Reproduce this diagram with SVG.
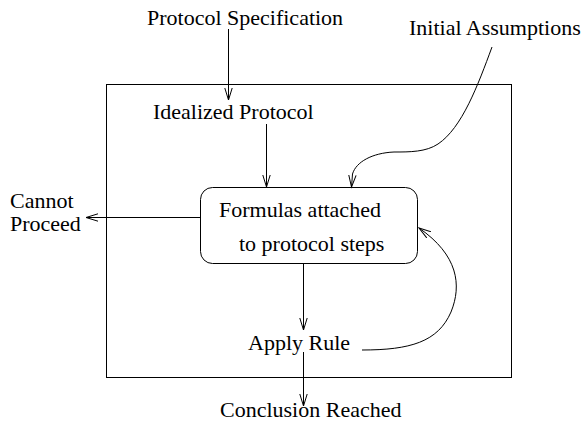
<svg xmlns="http://www.w3.org/2000/svg" width="587" height="427" viewBox="0 0 587 427">
<style>
  text { font-family: "Liberation Serif", "Times New Roman", serif; font-size: 22px; fill: #000; }
  .ln { fill: none; stroke: #000; stroke-width: 1; }
</style>
<defs>
  <marker id="arr" markerUnits="userSpaceOnUse" markerWidth="14" markerHeight="10" refX="12" refY="5" orient="auto">
    <path d="M0,1.3 L12,5 L0,8.7" fill="none" stroke="#000" stroke-width="1"/>
  </marker>
</defs>
<rect width="587" height="427" fill="#fff"/>
<g id="frame">
  <rect x="106.5" y="84.5" width="405" height="293" fill="none" stroke="#000" stroke-width="1"/>
</g>
<g id="protocol-spec"><text x="147" y="25">Protocol Specification</text></g>
<g id="initial-assumptions"><text x="409" y="35">Initial Assumptions</text></g>
<g id="idealized-protocol"><text x="153" y="119">Idealized Protocol</text></g>
<g id="formulas">
  <rect x="200.5" y="187.5" width="217" height="76" rx="12" ry="12" fill="#fff" stroke="#000" stroke-width="1"/>
  <text x="219" y="217">Formulas attached</text>
  <text x="239" y="251">to protocol steps</text>
</g>
<g id="cannot-proceed"><text x="10" y="208">Cannot</text><text x="10" y="231">Proceed</text></g>
<g id="apply-rule"><text x="248" y="350">Apply Rule</text></g>
<g id="conclusion"><text x="220" y="417">Conclusion Reached</text></g>
<g id="connectors">
  <path class="ln" d="M228.5,29 L228.5,100" marker-end="url(#arr)"/>
  <path class="ln" d="M266.5,124 L266.5,187" marker-end="url(#arr)"/>
  <path class="ln" d="M492,47 C478,85 462,128 438,144 C426,152 410,152 394,152 C372,153 356,162 352.5,174 L351.5,187" marker-end="url(#arr)"/>
  <path class="ln" d="M200,217.5 L86,217.5" marker-end="url(#arr)"/>
  <path class="ln" d="M303.5,264 L303.5,330" marker-end="url(#arr)"/>
  <path class="ln" d="M303.5,352 L303.5,406" marker-end="url(#arr)"/>
  <path class="ln" d="M362,350 C410,350 438,342 451,312 C462,285 458,255 419,228" marker-end="url(#arr)"/>
</g>
</svg>
